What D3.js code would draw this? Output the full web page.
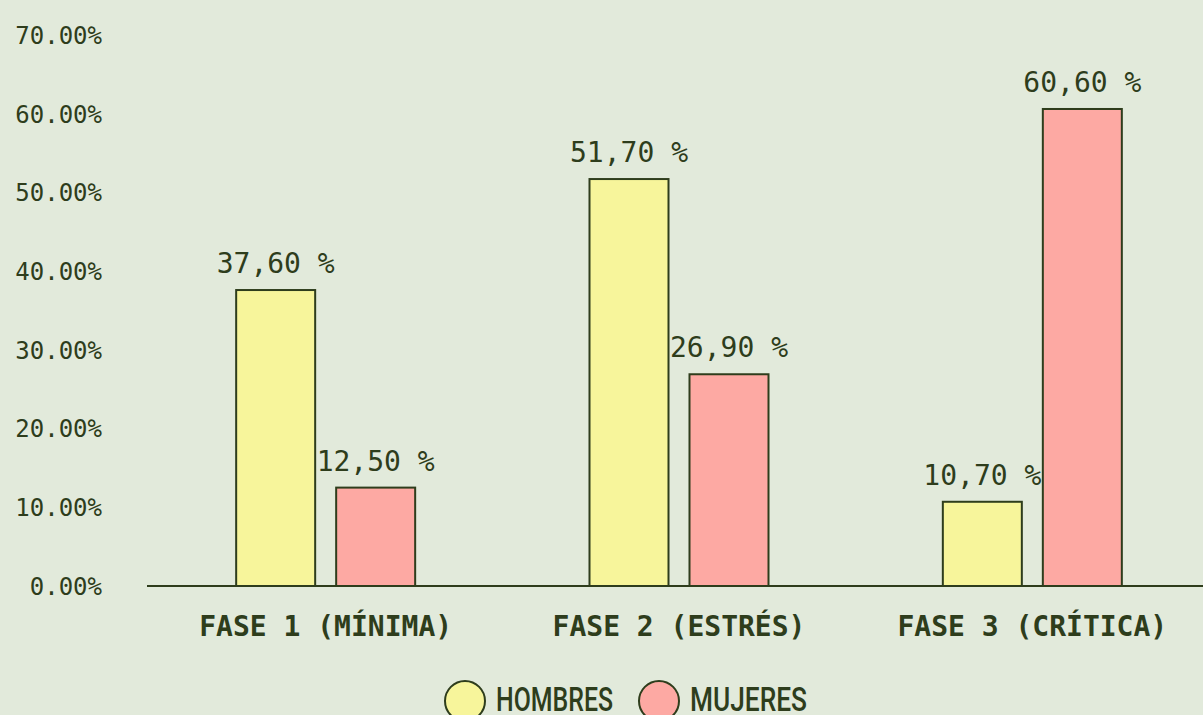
<!DOCTYPE html>
<html>
<head>
<meta charset="utf-8">
<script src="https://cdn.jsdelivr.net/npm/d3@7"></script>
<style>
  body { margin: 0; background: #e2eadb; }
  svg { display: block; }
</style>
</head>
<body>
<div id="chart"></div>
<script>
// datos
const phases = ["FASE 1 (MÍNIMA)", "FASE 2 (ESTRÉS)", "FASE 3 (CRÍTICA)"];
const groups = ["HOMBRES", "MUJERES"];
const hombres = [37.6, 51.7, 10.7];
const mujeres = [12.5, 26.9, 60.6];
const yTicks = [0, 10, 20, 30, 40, 50, 60, 70];

const colors = ["#f7f59b", "#fda9a3"];
const ink = "#2e3d1c";

const width = 1203;
const height = 715;

const svg = d3.select("#chart")
    .append("svg")
    .attr("width", width)
    .attr("height", height);

const yScale = d3.scaleLinear()
    .domain([0, 70])
    .range([586, 35]);

const x0 = d3.scaleBand()
    .domain(phases)
    .range([149, 1209]);

const x1 = d3.scaleBand()
    .domain(groups)
    .range([0, 179])
    .paddingInner(0.21);

const data = phases.map((p, i) => ({
    phase: p,
    values: [
        { key: "HOMBRES", value: hombres[i] },
        { key: "MUJERES", value: mujeres[i] }
    ]
}));

// eje y (solo etiquetas)
const yAxis = svg.append("g")
    .attr("transform", "translate(102, 0)")
    .call(d3.axisLeft(yScale)
        .tickValues(yTicks)
        .tickSize(0)
        .tickPadding(0)
        .tickFormat(d => d.toFixed(2) + "%"));
yAxis.select(".domain").remove();
yAxis.selectAll("text")
    .attr("fill", ink)
    .attr("dy", "0.35em")
    .style("font-family", "'DejaVu Sans Mono', monospace")
    .style("font-size", "24px");

// barras
const group = svg.selectAll(".phase")
    .data(data)
    .enter()
    .append("g")
    .attr("class", "phase")
    .attr("transform", d => "translate(" + (x0(d.phase) + (x0.bandwidth() - 179) / 2) + ",0)");

group.selectAll("rect")
    .data(d => d.values)
    .enter()
    .append("rect")
    .attr("x", d => x1(d.key))
    .attr("y", d => yScale(d.value))
    .attr("width", x1.bandwidth())
    .attr("height", d => yScale(0) - yScale(d.value))
    .attr("fill", (d, i) => colors[i])
    .attr("stroke", ink)
    .attr("stroke-width", 2);

group.selectAll(".val")
    .data(d => d.values)
    .enter()
    .append("text")
    .attr("class", "val")
    .attr("x", d => x1(d.key) + x1.bandwidth() / 2)
    .attr("y", d => yScale(d.value) - 17)
    .attr("text-anchor", "middle")
    .attr("fill", ink)
    .style("font-family", "'DejaVu Sans Mono', monospace")
    .style("font-size", "28px")
    .text(d => d.value.toFixed(2).replace(".", ",") + " %");

// eje x
const xAxis = svg.append("g")
    .attr("transform", "translate(0, 586)")
    .call(d3.axisBottom(x0).tickSize(0).tickPadding(0));
xAxis.select(".domain")
    .attr("d", "M147,0H1203")
    .attr("stroke", ink)
    .attr("stroke-width", 2);
xAxis.selectAll("text")
    .attr("y", 50)
    .attr("dy", 0)
    .attr("fill", ink)
    .style("font-family", "'DejaVu Sans Mono', monospace")
    .style("font-weight", "bold")
    .style("font-size", "28px");

// leyenda
const legendX = [465, 659];
const legend = svg.selectAll(".legend")
    .data(groups)
    .enter()
    .append("g")
    .attr("class", "legend")
    .attr("transform", (d, i) => "translate(" + legendX[i] + ",701)");

legend.append("circle")
    .attr("r", 20)
    .attr("fill", (d, i) => colors[i])
    .attr("stroke", ink)
    .attr("stroke-width", 2);

legend.append("text")
    .attr("x", 31)
    .attr("y", 10)
    .attr("fill", ink)
    .attr("textLength", 117)
    .attr("lengthAdjust", "spacingAndGlyphs")
    .style("font-family", "Roboto, sans-serif")
    .style("font-weight", "500")
    .style("font-size", "33px")
    .text(d => d);
</script>
</body>
</html>
